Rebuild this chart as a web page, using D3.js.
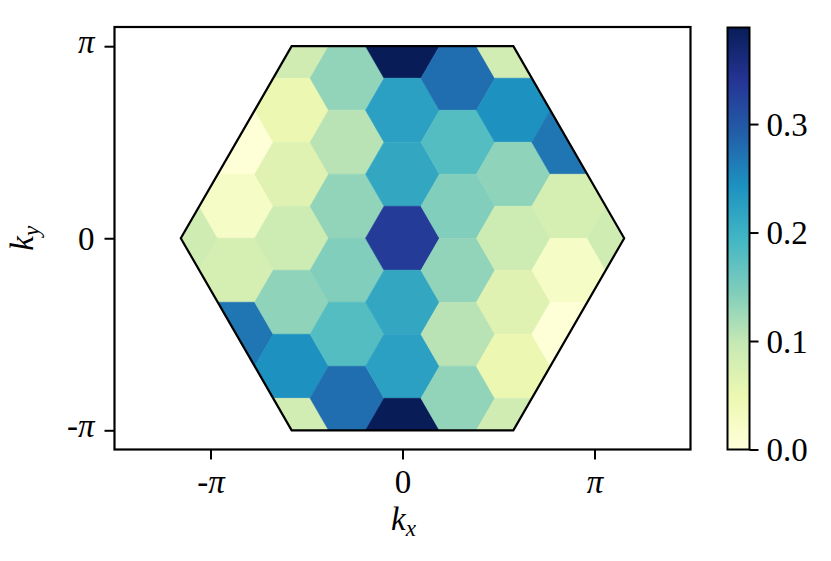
<!DOCTYPE html>
<html>
<head>
<meta charset="utf-8">
<script src="https://cdn.jsdelivr.net/npm/d3@7"></script>
<style>
  html, body { margin: 0; padding: 0; background: #fff; }
  svg { display: block; }
  text { font-family: "Liberation Serif", "DejaVu Serif", serif; fill: #000; }
</style>
</head>
<body>
<svg id="chart" width="831" height="561"></svg>
<script>
const PI = Math.PI;

// Hexagonal cells (grid column, grid row) and their values
const hexCol = [
  -4,
  -3, -3, -3, -3,
  -2, -2, -2, -2, -2, -2, -2,
  -1, -1, -1, -1, -1, -1,
   0,  0,  0,  0,  0,  0,  0,
   1,  1,  1,  1,  1,  1,
   2,  2,  2,  2,  2,  2,  2,
   3,  3,  3,  3,
   4
];
const hexRow = [
   0,
   1,  0, -1, -2,
   3,  2,  1,  0, -1, -2, -3,
   2,  1,  0, -1, -2, -3,
   3,  2,  1,  0, -1, -2, -3,
   2,  1,  0, -1, -2, -3,
   3,  2,  1,  0, -1, -2, -3,
   1,  0, -1, -2,
   0
];
const hexValue = [
  0.087,
  0.003, 0.024, 0.079, 0.270,
  0.086, 0.050, 0.067, 0.089, 0.136, 0.243, 0.083,
  0.133, 0.107, 0.133, 0.145, 0.180, 0.277,
  0.389, 0.223, 0.214, 0.331, 0.214, 0.223, 0.389,
  0.277, 0.180, 0.145, 0.133, 0.107, 0.133,
  0.083, 0.243, 0.136, 0.089, 0.067, 0.050, 0.086,
  0.270, 0.079, 0.024, 0.003,
  0.087
];

// Axis ticks
const xTickValues = [-PI, 0, PI];
const xTickLabels = ["-π", "0", "π"];
const yTickValues = [-PI, 0, PI];
const yTickLabels = ["-π", "0", "π"];
const cbTickValues = [0, 0.1, 0.2, 0.3];
const cbTickLabels = ["0.0", "0.1", "0.2", "0.3"];

// YlGnBu colormap stops
const cmapColors = ["#ffffd9", "#edf8b1", "#c7e9b4", "#7fcdbb", "#41b6c4",
                    "#1d91c0", "#225ea8", "#253494", "#081d58"];

const svg = d3.select("#chart");
const FONT = 33;

const x = d3.scaleLinear().domain([-1.5 * PI, 1.5 * PI]).range([114.5, 690.5]);
const y = d3.scaleLinear().domain([-1.1 * PI, 1.1 * PI]).range([449.5, 27]);

const vmax = d3.max(hexValue);
const color = d3.scaleLinear()
  .domain(cmapColors.map((c, i) => i / (cmapColors.length - 1) * vmax))
  .range(cmapColors)
  .interpolate(d3.interpolateRgb)
  .clamp(true);

// Brillouin zone hexagon
const s3 = Math.sqrt(3);
const bz = [[2 * PI / s3, 0], [PI / s3, PI], [-PI / s3, PI], [-2 * PI / s3, 0], [-PI / s3, -PI], [PI / s3, -PI]];
const bzPath = "M" + bz.map(p => [x(p[0]), y(p[1])].join(",")).join("L") + "Z";

const defs = svg.append("defs");
defs.append("clipPath").attr("id", "bzclip").append("path").attr("d", bzPath);

// Cells
const R = PI / (3 * s3);
const colStep = PI / (2 * s3);
const cells = hexCol.map((c, i) => {
  const cx = c * colStep;
  const cy = (hexRow[i] + (Math.abs(c) % 2 === 1 ? 0.5 : 0)) * PI / 3;
  const pts = d3.range(6).map(k => {
    const a = k * PI / 3;
    return [x(cx + R * Math.cos(a)), y(cy + R * Math.sin(a))];
  });
  return { pts, v: hexValue[i] };
});

svg.append("g").attr("clip-path", "url(#bzclip)")
  .selectAll("path").data(cells).join("path")
  .attr("d", d => "M" + d.pts.map(p => p.join(",")).join("L") + "Z")
  .attr("fill", d => color(d.v))
  .attr("stroke", d => color(d.v))
  .attr("stroke-width", 0.6);

svg.append("path").attr("d", bzPath)
  .attr("fill", "none").attr("stroke", "#000").attr("stroke-width", 2.2)
  .attr("stroke-linejoin", "miter");

// Frame
svg.append("rect")
  .attr("x", x(-1.5 * PI)).attr("y", y(1.1 * PI))
  .attr("width", x(1.5 * PI) - x(-1.5 * PI))
  .attr("height", y(-1.1 * PI) - y(1.1 * PI))
  .attr("fill", "none").attr("stroke", "#000").attr("stroke-width", 2.2);

function styleLabel(sel, labels) {
  sel.each(function(d, i) {
    const t = d3.select(this);
    const lab = labels[i];
    t.text(null);
    if (lab.includes("π")) {
      const pre = lab.replace("π", "");
      if (pre) t.append("tspan").text(pre);
      t.append("tspan").attr("font-style", "italic").text("π");
    } else {
      t.text(lab);
    }
  });
}

// X axis
const gx = svg.append("g").attr("transform", `translate(0,${y(-1.1 * PI)})`)
  .call(d3.axisBottom(x).tickValues(xTickValues)
    .tickFormat((d, i) => xTickLabels[i]).tickSize(10).tickPadding(10));
gx.select(".domain").remove();
gx.selectAll(".tick line").attr("stroke-width", 2);
gx.selectAll(".tick text").attr("font-size", FONT).attr("font-family", "Liberation Serif")
  .attr("dy", "0.7em").call(styleLabel, xTickLabels);

// Y axis
const gy = svg.append("g").attr("transform", `translate(${x(-1.5 * PI)},0)`)
  .call(d3.axisLeft(y).tickValues(yTickValues)
    .tickFormat((d, i) => yTickLabels[i]).tickSize(10).tickPadding(10));
gy.select(".domain").remove();
gy.selectAll(".tick line").attr("stroke-width", 2);
gy.selectAll(".tick text").attr("font-size", FONT).attr("font-family", "Liberation Serif")
  .attr("dy", (d, i) => yTickLabels[i] === "0" ? "0.34em" : "0.2em")
  .call(styleLabel, yTickLabels);

// Axis labels
const xl = svg.append("text").attr("x", x(0) + 1).attr("y", 530)
  .attr("text-anchor", "middle").attr("font-size", FONT);
xl.append("tspan").attr("font-style", "italic").text("k");
xl.append("tspan").attr("font-style", "italic").attr("font-size", 23).attr("dy", 6).text("x");

const yl = svg.append("text")
  .attr("transform", `translate(33,${y(0)}) rotate(-90)`)
  .attr("text-anchor", "middle").attr("font-size", FONT);
yl.append("tspan").attr("font-style", "italic").text("k");
yl.append("tspan").attr("font-style", "italic").attr("font-size", 23).attr("dy", 6).text("y");

// Colorbar
const cbX = 727.5, cbW = 22;
const cbScale = d3.scaleLinear().domain([0, vmax]).range([449.5, 27.5]);
const grad = defs.append("linearGradient").attr("id", "cbgrad")
  .attr("x1", 0).attr("y1", 1).attr("x2", 0).attr("y2", 0);
cmapColors.forEach((c, i) => {
  grad.append("stop").attr("offset", i / (cmapColors.length - 1)).attr("stop-color", c);
});
svg.append("rect").attr("x", cbX).attr("y", cbScale(vmax))
  .attr("width", cbW).attr("height", cbScale(0) - cbScale(vmax))
  .attr("fill", "url(#cbgrad)").attr("stroke", "#000").attr("stroke-width", 2);

const gc = svg.append("g").attr("transform", `translate(${cbX + cbW},0)`)
  .call(d3.axisRight(cbScale).tickValues(cbTickValues)
    .tickFormat((d, i) => cbTickLabels[i]).tickSize(9).tickPadding(8));
gc.select(".domain").remove();
gc.selectAll(".tick line").attr("stroke-width", 2);
gc.selectAll(".tick text").attr("font-size", FONT).attr("font-family", "Liberation Serif")
  .attr("dy", "0.34em");
</script>
</body>
</html>
